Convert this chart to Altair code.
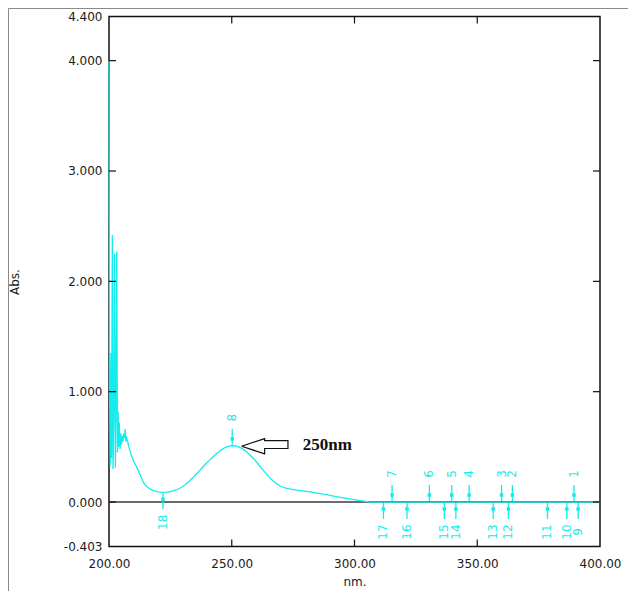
import altair as alt
import pandas as pd

# ---------------- data ----------------
wavelength = [
    200.00, 200.20, 200.50, 200.80, 201.05, 201.35, 201.65, 201.95, 202.30, 202.60,
    202.90, 203.15, 203.45, 203.70, 203.95, 204.20, 204.50, 204.80, 205.10, 205.40,
    205.70, 206.00, 206.30, 206.60, 206.90, 207.20, 207.60, 208.00, 208.50, 209.00,
    210.0, 211.0, 212.0, 213.0, 214.0, 215.0, 216.0, 217.0, 218.0, 219.0,
    220.0, 221.0, 222.0, 223.0, 224.0, 225.0, 226.0, 227.0, 228.0, 229.0,
    230.0, 231.0, 232.0, 233.0, 234.0, 235.0, 236.0, 237.0, 238.0, 239.0,
    240.0, 241.0, 242.0, 243.0, 244.0, 245.0, 246.0, 247.0, 248.0, 249.0,
    250.0, 251.0, 252.0, 253.0, 254.0, 255.0, 256.0, 257.0, 258.0, 259.0,
    260.0, 261.0, 262.0, 263.0, 264.0, 265.0, 266.0, 267.0, 268.0, 269.0,
    270.0, 272.0, 274.0, 276.0, 278.0, 280.0, 283.0, 286.0, 289.0, 292.0,
    295.0, 298.0, 301.0, 304.0, 306.0, 320.0, 340.0, 360.0, 380.0, 400.0,
]
absorbance = [
    4.00, 1.08, 0.33, 1.35, 0.40, 2.42, 0.30, 0.75, 2.25, 0.31,
    0.95, 2.27, 0.45, 0.82, 0.50, 0.72, 0.48, 0.62, 0.52, 0.60,
    0.55, 0.62, 0.58, 0.66, 0.55, 0.58, 0.55, 0.51, 0.47, 0.43,
    0.37, 0.33, 0.28, 0.23, 0.18, 0.15, 0.13, 0.115, 0.105, 0.098,
    0.092, 0.089, 0.088, 0.089, 0.091, 0.095, 0.100, 0.107, 0.116, 0.127,
    0.140, 0.157, 0.176, 0.196, 0.217, 0.240, 0.263, 0.287, 0.311, 0.335,
    0.358, 0.380, 0.402, 0.423, 0.443, 0.461, 0.477, 0.490, 0.500, 0.507,
    0.510, 0.510, 0.506, 0.498, 0.487, 0.473, 0.455, 0.435, 0.413, 0.390,
    0.365, 0.338, 0.310, 0.283, 0.257, 0.232, 0.209, 0.188, 0.170, 0.155,
    0.143, 0.127, 0.117, 0.110, 0.104, 0.098, 0.088, 0.077, 0.065, 0.052,
    0.040, 0.028, 0.017, 0.007, 0.000, 0.000, 0.000, 0.000, 0.000, 0.000,
]

peak_ids = ["1", "2", "3", "4", "5", "6", "7", "8"]
peak_nm = [389.4, 364.3, 359.9, 346.7, 339.6, 330.5, 315.3, 250.2]
peak_abs = [0.0, 0.0, 0.0, 0.0, 0.0, 0.0, 0.0, 0.51]

valley_ids = ["9", "10", "11", "12", "13", "14", "15", "16", "17", "18"]
valley_nm = [391.1, 386.5, 378.6, 362.7, 356.5, 341.3, 336.6, 321.4, 311.8, 222.0]
valley_abs = [0.0, 0.0, 0.0, 0.0, 0.0, 0.0, 0.0, 0.0, 0.0, 0.088]

x_label_values = [200, 250, 300, 350, 400]
y_label_values = [-0.403, 0, 1, 2, 3, 4, 4.4]
x_tick_values = [250, 300, 350]
y_tick_values = [0, 1, 2, 3, 4]

# annotation arrow outline (nm, Abs) and its label
arrow_nm = [254.0, 263.4, 263.4, 272.9, 272.9, 263.4, 263.4, 254.0]
arrow_abs = [0.505, 0.575, 0.557, 0.557, 0.485, 0.485, 0.437, 0.505]
note_text = "250nm"
note_nm = 278.9
note_abs = 0.52

# ---------------- chart ----------------
W, H = 491, 530
CYAN = "#12ECEE"
FONT = "DejaVu Sans"
INK = "#1a1a1a"

xs = alt.Scale(domain=[200, 400], nice=False, zero=False)
ys = alt.Scale(domain=[-0.403, 4.4], nice=False, zero=False)

x_axis = alt.Axis(
    values=x_label_values, format=".2f", ticks=False, domain=False, grid=False,
    labelFlush=False, labelOverlap=False, labelPadding=12, labelFont=FONT,
    labelFontSize=12, labelColor=INK, titleFont=FONT,
    titleFontSize=12, titleFontWeight="normal", titleColor=INK,
    titleY=35, titleBaseline="middle",
)
y_axis = alt.Axis(
    values=y_label_values, ticks=False, domain=False, grid=False,
    labelExpr="datum.value < 0 ? '-' + format(-datum.value, '.3f') : format(datum.value, '.3f')",
    labelFlush=False, labelOverlap=False, labelPadding=7, labelFont=FONT,
    labelFontSize=12, labelColor=INK, titleFont=FONT,
    titleFontSize=12, titleFontWeight="normal", titleColor=INK,
    titleAngle=270, titleX=-95, titleY=H / 2, titleAlign="center",
    titleBaseline="middle",
)


def X(field="nm"):
    return alt.X(f"{field}:Q", scale=xs, axis=x_axis, title="nm.")


def Y(field="abs"):
    return alt.Y(f"{field}:Q", scale=ys, axis=y_axis, title="Abs.")


spec_df = pd.DataFrame({"nm": wavelength, "abs": absorbance})
peaks_df = pd.DataFrame({"id": peak_ids, "nm": peak_nm, "abs": peak_abs})
valleys_df = pd.DataFrame({"id": valley_ids, "nm": valley_nm, "abs": valley_abs})
arrow_df = pd.DataFrame({"i": list(range(len(arrow_nm))), "nm": arrow_nm, "abs": arrow_abs})
note_df = pd.DataFrame({"t": [note_text], "nm": [note_nm], "abs": [note_abs]})
yt_df = pd.DataFrame({"abs": y_tick_values})
xt_df = pd.DataFrame({"nm": x_tick_values})

baseline = alt.Chart(pd.DataFrame({"abs": [0.0]})).mark_rule(
    color="#3a3a3a", strokeWidth=1.5
).encode(y=Y())

spectrum = alt.Chart(spec_df).mark_line(color=CYAN, strokeWidth=1.3).encode(x=X(), y=Y())

tick_col = "#111111"
left_ticks = alt.Chart(yt_df).mark_rule(color=tick_col, strokeWidth=1.2).encode(
    y=Y(), x=alt.value(0), x2=alt.value(7))
right_ticks = alt.Chart(yt_df).mark_rule(color=tick_col, strokeWidth=1.2).encode(
    y=Y(), x=alt.value(W - 7), x2=alt.value(W))
bottom_ticks = alt.Chart(xt_df).mark_rule(color=tick_col, strokeWidth=1.2).encode(
    x=X(), y=alt.value(H - 7), y2=alt.value(H))
top_ticks = alt.Chart(xt_df).mark_rule(color=tick_col, strokeWidth=1.2).encode(
    x=X(), y=alt.value(0), y2=alt.value(7))

peak_line = alt.Chart(peaks_df).mark_rule(color=CYAN, strokeWidth=1.3, yOffset=-17, y2Offset=-1).encode(
    x=X(), y=Y(), y2="abs:Q")
peak_box = alt.Chart(peaks_df).mark_square(color=CYAN, size=12, opacity=1, yOffset=-7).encode(
    x=X(), y=Y())
peak_text = alt.Chart(peaks_df).mark_text(
    color=CYAN, font=FONT, fontSize=12, angle=270, align="center", baseline="middle", yOffset=-28
).encode(x=X(), y=Y(), text="id:N")

valley_line = alt.Chart(valleys_df).mark_rule(color=CYAN, strokeWidth=1.3, yOffset=1, y2Offset=17).encode(
    x=X(), y=Y(), y2="abs:Q")
valley_box = alt.Chart(valleys_df).mark_square(color=CYAN, size=12, opacity=1, yOffset=7).encode(
    x=X(), y=Y())
valley_text = alt.Chart(valleys_df).mark_text(
    color=CYAN, font=FONT, fontSize=12, angle=270, align="center", baseline="middle", yOffset=30
).encode(x=X(), y=Y(), text="id:N")

arrow = alt.Chart(arrow_df).mark_line(color="#111111", strokeWidth=1.2).encode(
    x=X(), y=Y(), order="i:Q")
note = alt.Chart(note_df).mark_text(
    font="Liberation Serif", fontWeight="bold", fontSize=17, align="left", baseline="middle", color="#111111"
).encode(x=X(), y=Y(), text="t:N")

# outer picture border (top and left edges)
border_top = alt.Chart(pd.DataFrame({"v": [0]})).mark_rule(color="#8a8a8a", strokeWidth=1).encode(
    x=alt.value(-100.5), x2=alt.value(W + 40), y=alt.value(-8))
border_left = alt.Chart(pd.DataFrame({"v": [0]})).mark_rule(color="#8a8a8a", strokeWidth=1).encode(
    x=alt.value(-100.5), y=alt.value(-8), y2=alt.value(H + 60))

chart = alt.layer(
    baseline, spectrum, left_ticks, right_ticks, bottom_ticks, top_ticks,
    peak_line, peak_box, peak_text, valley_line, valley_box, valley_text,
    arrow, note, border_top, border_left,
).properties(
    width=W, height=H,
    padding={"left": 101, "top": 8.5, "right": 28, "bottom": 44},
    autosize=alt.AutoSizeParams(type="none"),
    background="white",
).configure_view(stroke="#111111", strokeWidth=1.5)

chart.save("out.html", embed_options={"renderer": "svg", "actions": False})
